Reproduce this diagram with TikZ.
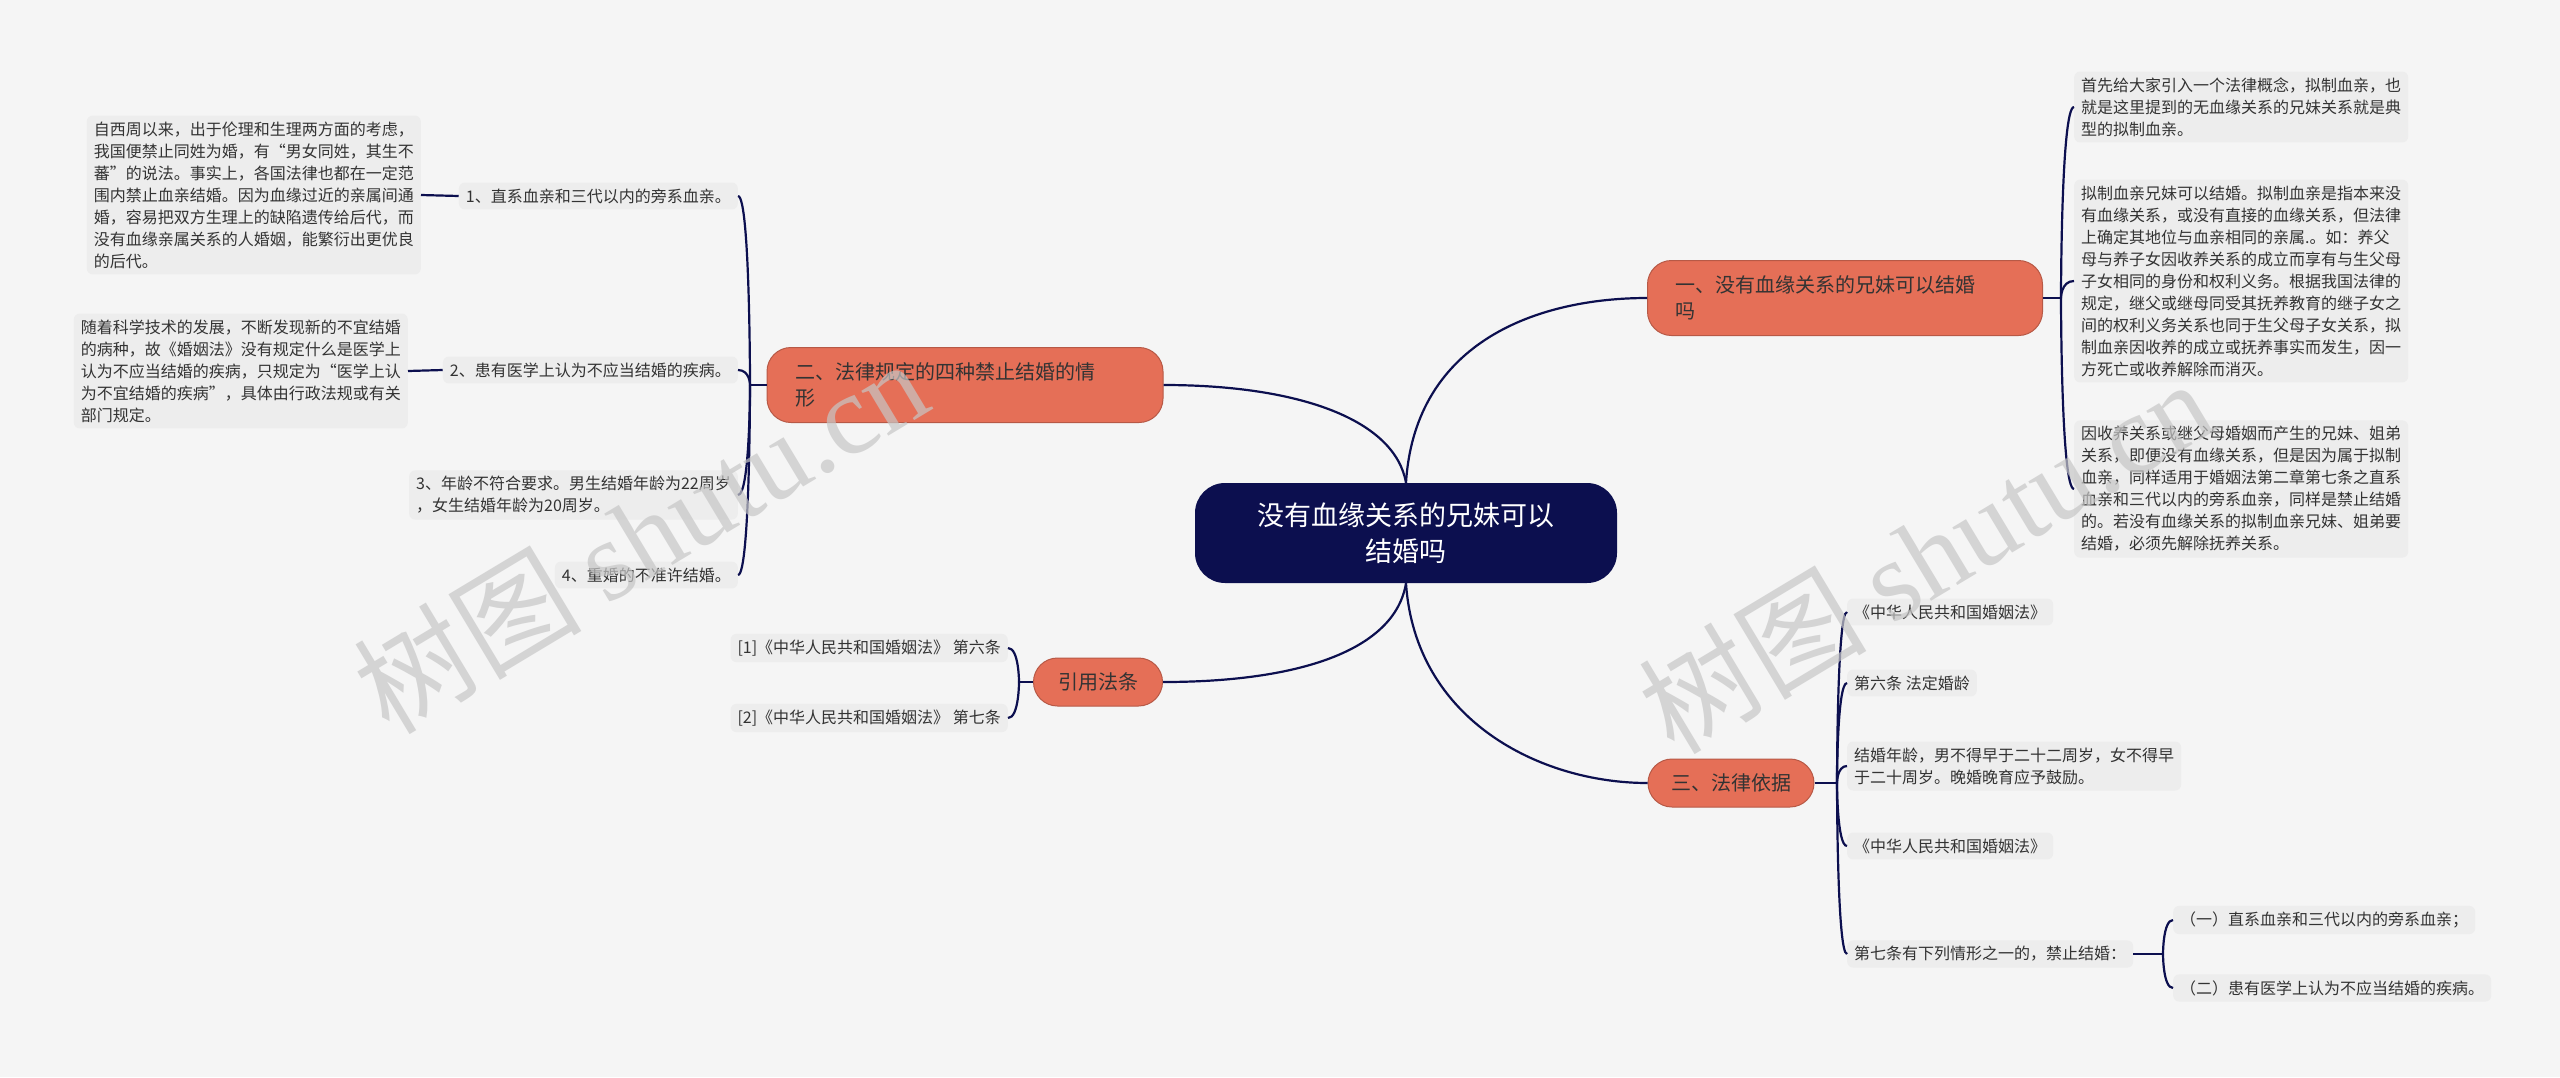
\documentclass[tikz,border=0pt]{standalone}
\usepackage{fontspec}
\setmainfont{Noto Sans CJK SC}
\newfontfamily\wmlat{Liberation Serif}
\definecolor{bg}{HTML}{F5F5F5}
\definecolor{leafc}{HTML}{EDEDED}
\definecolor{navy}{HTML}{0C0F4F}
\definecolor{orng}{HTML}{E56F57}
\definecolor{txt}{HTML}{333333}
\tikzset{
 leaf/.style={fill=leafc,rounded corners=6pt,inner xsep=7pt,inner ysep=6pt,align=left,text=txt,font=\fontsize{16}{22}\selectfont},
 brn/.style={fill=orng,draw=orng!80!black,line width=1pt,rounded corners=24pt,inner xsep=18pt,inner ysep=8pt,align=left,text=txt,font=\fontsize{20}{26}\selectfont},
 con/.style={draw=navy,line width=2.2pt},
 wm/.style={text=gray!45,opacity=0.7,font=\fontsize{114}{114}\selectfont,rotate=31}
}
\begin{document}
\begin{tikzpicture}[x=1pt,y=-1pt]
\useasboundingbox (0,0) rectangle (2560,1077);
\fill[bg] (0,0) rectangle (2560,1077);
% center
\node[fill=navy,rounded corners=30pt,minimum width=422pt,minimum height=100pt,align=center,text=white,font=\fontsize{27}{36}\selectfont] (c) at (1406,533) {没有血缘关系的兄妹可以\\结婚吗};
% branches
\node[brn,minimum width=395pt,minimum height=75pt,text width=340pt] (b1) at (1845,298) {一、没有血缘关系的兄妹可以结婚\\吗};
\node[brn,minimum width=396pt,minimum height=75pt,text width=340pt] (b2) at (965,385) {二、法律规定的四种禁止结婚的情\\形};
\node[brn,minimum width=129pt,minimum height=48pt] (b3) at (1098,682) {引用法条};
\node[brn,minimum width=166pt,minimum height=48pt] (b4) at (1731,783) {三、法律依据};
% branch 1 leaves
\node[leaf,anchor=west] (r1) at (2074,107) {首先给大家引入一个法律概念，拟制血亲，也\\就是这里提到的无血缘关系的兄妹关系就是典\\型的拟制血亲。};
\node[leaf,anchor=west] (r2) at (2074,281) {拟制血亲兄妹可以结婚。拟制血亲是指本来没\\有血缘关系，或没有直接的血缘关系，但法律\\上确定其地位与血亲相同的亲属.。如：养父\\母与养子女因收养关系的成立而享有与生父母\\子女相同的身份和权利义务。根据我国法律的\\规定，继父或继母同受其抚养教育的继子女之\\间的权利义务关系也同于生父母子女关系，拟\\制血亲因收养的成立或抚养事实而发生，因一\\方死亡或收养解除而消灭。};
\node[leaf,anchor=west] (r3) at (2074,489) {因收养关系或继父母婚姻而产生的兄妹、姐弟\\关系，即便没有血缘关系，但是因为属于拟制\\血亲，同样适用于婚姻法第二章第七条之直系\\血亲和三代以内的旁系血亲，同样是禁止结婚\\的。若没有血缘关系的拟制血亲兄妹、姐弟要\\结婚，必须先解除抚养关系。};
% branch 2 leaves
\node[leaf,anchor=east] (i1) at (738,196) {1、直系血亲和三代以内的旁系血亲。};
\node[leaf,anchor=east] (i2) at (738,370) {2、患有医学上认为不应当结婚的疾病。};
\node[leaf,anchor=east] (i3) at (738,495) {3、年龄不符合要求。男生结婚年龄为22周岁\\，女生结婚年龄为20周岁。};
\node[leaf,anchor=east] (i4) at (738,575) {4、重婚的不准许结婚。};
\node[leaf,anchor=east] (l1) at (421,195) {自西周以来，出于伦理和生理两方面的考虑，\\我国便禁止同姓为婚，有“男女同姓，其生不\\蕃”的说法。事实上，各国法律也都在一定范\\围内禁止血亲结婚。因为血缘过近的亲属间通\\婚，容易把双方生理上的缺陷遗传给后代，而\\没有血缘亲属关系的人婚姻，能繁衍出更优良\\的后代。};
\node[leaf,anchor=east] (l2) at (408,371) {随着科学技术的发展，不断发现新的不宜结婚\\的病种，故《婚姻法》没有规定什么是医学上\\认为不应当结婚的疾病，只规定为“医学上认\\为不宜结婚的疾病”，具体由行政法规或有关\\部门规定。};
% cite leaves
\node[leaf,anchor=east] (f1) at (1008,648) {[1]《中华人民共和国婚姻法》 第六条};
\node[leaf,anchor=east] (f2) at (1008,718) {[2]《中华人民共和国婚姻法》 第七条};
% branch 3 leaves
\node[leaf,anchor=west] (s1) at (1847,612) {《中华人民共和国婚姻法》};
\node[leaf,anchor=west] (s2) at (1847,683) {第六条 法定婚龄};
\node[leaf,anchor=west] (s3) at (1847,766) {结婚年龄，男不得早于二十二周岁，女不得早\\于二十周岁。晚婚晚育应予鼓励。};
\node[leaf,anchor=west] (s4) at (1847,846) {《中华人民共和国婚姻法》};
\node[leaf,anchor=west] (s5) at (1847,954) {第七条有下列情形之一的，禁止结婚：};
\node[leaf,anchor=west] (t1) at (2173,920) {（一）直系血亲和三代以内的旁系血亲；};
\node[leaf,anchor=west] (t2) at (2173,988) {（二）患有医学上认为不应当结婚的疾病。};
% center connectors
\draw[con] (c.north) .. controls (1415,340) and (1540,298) .. (b1.west);
\draw[con] (c.south) .. controls (1415,720) and (1540,783) .. (b4.west);
\draw[con] (b2.east) .. controls (1300,385) and (1395,420) .. (c.north);
\draw[con] (b3.east) .. controls (1300,682) and (1395,650) .. (c.south);
% branch 1 bracket
\coordinate (j1) at (2061,298);
\draw[con] (b1.east) -- (j1);
\foreach \n in {r1,r2,r3} \draw[con] (j1) .. controls (2061,298) and (2061,0|-\n.west) .. (\n.west);
% branch 2 bracket
\coordinate (j2) at (750,385);
\draw[con] (b2.west) -- (j2);
\foreach \n in {i1,i2,i3,i4} \draw[con] (j2) .. controls (750,385) and (750,0|-\n.east) .. (\n.east);
\draw[con] (l1.east) -- (i1.west);
\draw[con] (l2.east) -- (i2.west);
% cite bracket
\coordinate (j3) at (1019,682);
\draw[con] (b3.west) -- (j3);
\foreach \n in {f1,f2} \draw[con] (j3) .. controls (1019,682) and (1019,0|-\n.east) .. (\n.east);
% branch 3 bracket
\coordinate (j4) at (1837,783);
\draw[con] (b4.east) -- (j4);
\foreach \n in {s1,s2,s3,s4,s5} \draw[con] (j4) .. controls (1837,783) and (1837,0|-\n.west) .. (\n.west);
\coordinate (j5) at (2163,954);
\draw[con] (s5.east) -- (j5);
\foreach \n in {t1,t2} \draw[con] (j5) .. controls (2163,954) and (2163,0|-\n.west) .. (\n.west);
% watermarks
\node[wm] (w1) at (640,535) {树图 {\wmlat shutu.cn}};
\node[wm] (w2) at (1925,555) {树图 {\wmlat shutu.cn}};
\end{tikzpicture}
\end{document}
